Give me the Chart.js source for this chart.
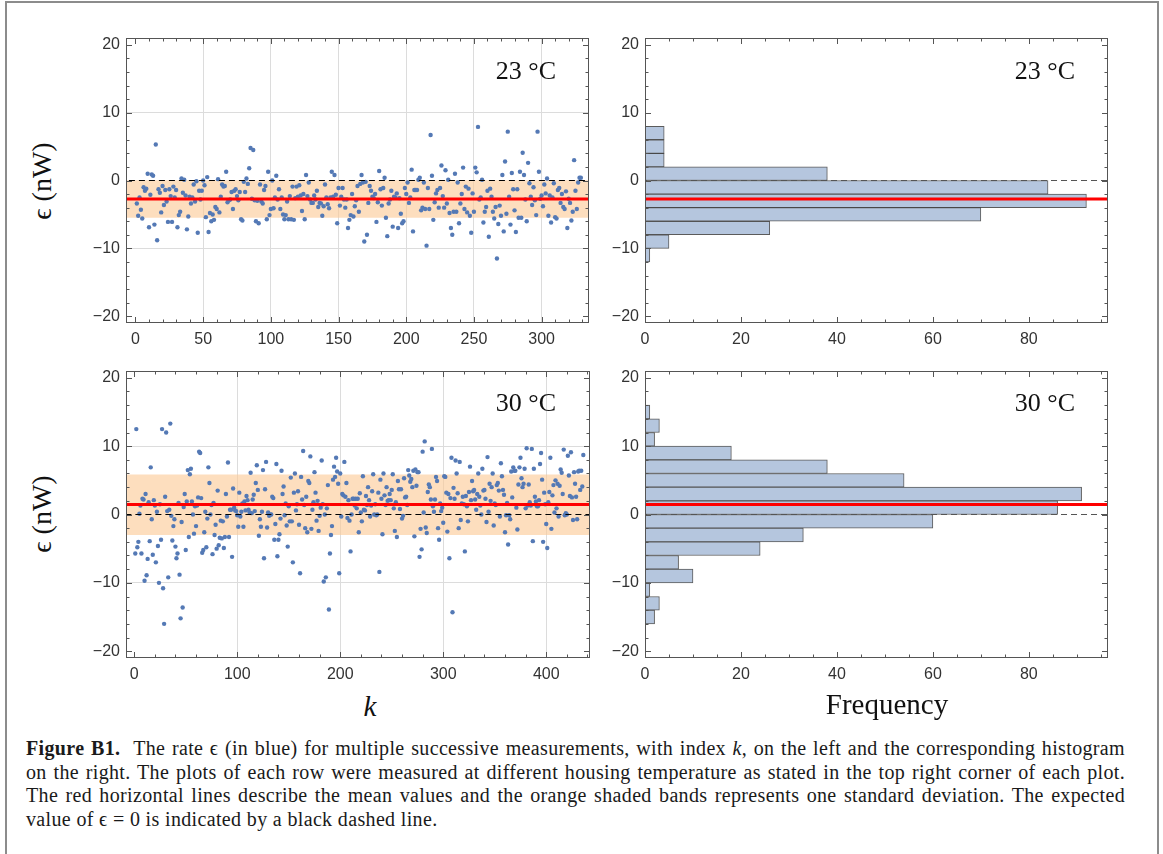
<!DOCTYPE html>
<html>
<head>
<meta charset="utf-8">
<title>Figure B1</title>
<script src="https://cdn.jsdelivr.net/npm/chart.js@4.4.1/dist/chart.umd.min.js"></script>
<style>
    html, body { margin: 0; padding: 0; background: #fff; }
    #page { position: relative; width: 1163px; height: 854px; overflow: hidden; }
    #box { position: absolute; left: 5px; top: 1px; width: 1150px; height: 900px; border: 2px solid #8c8c8c; }
    canvas { position: absolute; }
    .lbl { position: absolute; font-family: 'Liberation Serif', 'DejaVu Serif', serif; color: #111; white-space: nowrap; }
    .temp { font-size: 26px; transform: translate(-100%, -50%); }
    .ylab { font-size: 28px; transform: translate(-50%, -50%) rotate(-90deg); }
    .xlab { font-size: 29px; transform: translate(-50%, -50%); }
    #caption { position: absolute; left: 26px; top: 737px; width: 1099px; font-family: 'Liberation Serif', serif; font-size: 20px; letter-spacing: 0.35px; line-height: 23.5px; color: #1a1a1a; }
    #caption span { display: block; white-space: nowrap; text-align: justify; text-align-last: justify; }
    #caption span.last { text-align-last: left; }
</style>
</head>
<body>
<div id="page">
    <div id="box"></div>

    <canvas id="rate23"></canvas>
    <canvas id="hist23"></canvas>
    <canvas id="rate30"></canvas>
    <canvas id="hist30"></canvas>

    <div class="lbl temp" style="left:556px; top:71px;">23 °C</div>
    <div class="lbl temp" style="left:1075px; top:71px;">23 °C</div>
    <div class="lbl temp" style="left:556px; top:403px;">30 °C</div>
    <div class="lbl temp" style="left:1075px; top:403px;">30 °C</div>

    <div class="lbl ylab" style="left:42px; top:181px;">ϵ (nW)</div>
    <div class="lbl ylab" style="left:42px; top:514px;">ϵ (nW)</div>
    <div class="lbl xlab" style="left:370px; top:706px; font-style:italic;">k</div>
    <div class="lbl xlab" style="left:887px; top:704px;">Frequency</div>

    <div id="caption">
        <span><b>Figure B1.</b>&nbsp; The rate ϵ (in blue) for multiple successive measurements, with index <i>k</i>, on the left and the corresponding histogram</span>
        <span>on the right. The plots of each row were measured at different housing temperature as stated in the top right corner of each plot.</span>
        <span>The red horizontal lines describe the mean values and the orange shaded bands represents one standard deviation. The expected</span>
        <span class="last">value of ϵ = 0 is indicated by a black dashed line.</span>
    </div>
</div>

<script>
const rate23 = [
    -3.4, -5.2, -2.5, -4.3, -5.6, -1.0, -1.5, -1.2, 1.0, -6.9,
    -2.1, 0.9, 0.7, -6.5, 5.3, -8.8, -1.3, -1.8, -4.7, -0.8,
    -3.6, -1.4, -3.1, -6.1, -1.3, -2.3, -6.1, -0.9, -2.5, -1.4,
    -6.9, -5.1, -4.6, 0.3, -1.8, 0.1, -2.2, -7.2, -5.3, -2.4,
    -3.4, -2.5, -0.6, -3.1, -0.1, -7.7, -1.5, -2.8, -1.5, 0.0,
    -0.7, -5.4, 0.5, -7.6, -4.8, -6.0, -5.0, -5.8, -3.9, -4.2,
    0.2, -4.7, -2.4, -0.6, -0.9, -0.8, 1.3, -3.2, -2.9, -2.8,
    -1.7, -4.2, -1.5, -1.3, -2.3, -2.9, -1.7, -5.7, -5.9, -0.2,
    -1.7, 0.3, -0.5, 1.8, 4.8, -2.7, 4.5, -2.9, -6.0, -3.0,
    -6.3, -0.6, -3.1, -3.4, -1.4, -0.8, -5.7, 1.3, -5.1, -4.2,
    0.0, -4.1, -2.5, 0.7, -2.8,
    -1.3, -4.2, -2.5, -5.0, -5.7, -5.1, -3.1, -5.7, -2.3, -5.7,
    -0.9, -5.8, -2.6, -0.9, -2.4, -0.7, -2.2, -4.5, -2.0, -5.7,
    0.8, -2.3, -0.3, -2.8, -3.3, -3.3, -2.2, -2.8, -1.5, -3.9,
    -3.3, -3.4, -5.2, -3.8, -0.6, -2.5, -3.5, -4.1, -2.5, 1.3,
    -2.4, 0.8, -2.1, -6.3, -1.1, -3.7, -2.4, -1.1, -2.8, -4.0,
    -2.8, -7.0, -5.8, -5.1, -2.0, -5.3, -3.8, -2.9, -0.8, -4.6,
    -0.5, 0.8, -0.3, -9.0, -0.2, -8.0, -3.3, -0.8, -1.5, -2.4,
    -2.6, -2.0, -6.1, -3.2, 1.4, -1.3, -3.7, -1.1, 0.4, -5.5,
    -8.2, -3.4, -2.8, -1.5, -6.8, -2.4, -2.5, -1.9, -7.0, -2.6,
    -4.9, -6.3, -6.0, -1.1, -2.0, -0.3, -3.3, -2.5, 1.6, -7.5,
    -1.4, -1.4, -1.4, 0.1, 0.4, -4.4, -4.0, -0.3, -4.2, -9.6,
    -1.1, -4.2, 6.7, 0.7,
    -5.8, -3.2, -1.9, -1.4, -4.0, -1.1, 2.2, -2.3, -4.0, 1.5,
    -3.4, 0.1, -4.8, -7.0, -8.0, -4.6, 1.0, -4.6, -0.3, -6.3,
    -3.4, -2.0, 1.9, -4.2, -0.9, -4.7, -1.2, -5.2, -7.7, -1.9,
    -4.6, 1.9, 1.2, 7.9, -2.8, -2.5, 0.1, -6.2, -4.6, -3.9,
    -1.5, -8.3, -1.2, -2.4, -4.6, -5.6, -3.9, -11.5, -6.4, -3.7, -5.2,
    0.8, -7.5, 2.8, -4.9, 7.2, -2.4, -6.5, 1.1, -1.3, -4.4,
    -7.6, -1.3, -5.5, 1.3, -5.5, 4.1, 0.8, -2.8, -6.0, 2.6,
    -0.4, -2.4, -3.6, -1.0, -2.9, -5.1, 7.2, 1.3, -2.7, -2.2,
    -3.8, -0.6, -1.9, 0.3, -5.2, -2.2, -6.2, -2.5, -0.4, -5.4,
    -5.6, -1.4, -1.1, -3.3, -2.0, -3.9, -4.2, -1.6, -7.0, -2.7,
    -3.3, -5.9, -4.6, 3.0, -1.5, -4.2, -0.3, 0.4, 0.4
];

// Rate epsilon (nW) per measurement index k, 30 °C
const rate30 = [
    -5.7, 12.5, -4.8, -4.0, 0.1, 1.3, -5.7, 2.3, 2.2, -9.7,
    3.0, -8.9, -6.5, 1.8, -3.9, 6.9, -0.7, -5.9, 2.1, 1.3,
    -7.0, 0.4, -4.6, -10.0, 1.5, -3.7, 12.5, -10.8, -16.0, 2.6, 12.0,
    0.5, -9.2, 0.7, 13.3, -0.2, -3.8, -1.7, -0.7, -4.7, -6.4,
    -5.7, 1.7, -8.8, -15.2, -1.1, -13.6, 1.1, 3.0, -5.2, 1.9,
    6.5, -3.3, 5.9, 6.7, 1.9, 0.0, -2.8, 1.2, -1.7, 1.3,
    2.5, 9.2, 9.0, 2.4, -5.6, -5.2, -2.6, 0.4, -4.8, -0.6,
    6.9, 4.6, 0.0, 1.4, -5.8, 1.7, -3.0, -1.5, -5.0, 3.5,
    -4.5, -3.4, -0.9, -3.5, -1.0, -4.9, -3.3, 3.0, -0.3, 7.6,
    -3.3, 0.7, 0.7, -6.2, 3.8, 1.0, 0.6, 0.5, -0.1, -1.8,
    3.2, -0.3, 0.4, 1.6, -1.8, 1.9, 0.6, 2.7, 2.1,
    0.7, 0.3, 6.1, 0.2, 2.2, 2.9, 0.5, 4.6, 7.2, 3.6,
    -3.1, -0.7, -1.8, 0.4, 6.5, -6.4, 3.7, 7.7, -1.9, 0.3,
    -0.2, 0.0, 0.0, 2.6, 2.4, -3.7, -1.4, 7.4, -6.1, -3.7,
    -2.9, -0.6, 6.4, 3.0, 4.1, -0.1, 1.6, -1.6, -4.7, 1.2,
    -1.0, 5.4, -1.0, -7.0, 3.2, 6.0, 0.6, 1.5, 3.4, -1.5,
    -8.6, 5.5, 2.2, 9.3, 1.4, -2.0, 2.6, -2.6, 4.9, 4.6,
    8.5, -2.1, 0.7, 1.8, 6.2, 3.2, -0.9, 2.0, -2.4, -0.2,
    1.0, 7.9, 1.5, -9.8, 0.0, -9.2, 0.9, 4.3, -13.9, -5.7,
    -3.0, -1.7, 5.1, 7.0, 5.5, 8.3, 6.3, 4.5, -8.6, 6.0,
    -0.3, 3.0, 2.8, 7.7, 2.6, 4.6, -0.5, 2.1, -0.9, -5.4,
    0.0, 2.3, 2.3, 1.3, 2.3, 0.9, 2.3, -2.6, 3.1, 0.3,
    -1.0, 5.6, 0.7,
    0.6, 2.7, 1.4, 4.0, 2.1, -0.3, 1.3, 3.4, 5.9, 0.0,
    1.5, -0.1, 0.0, 3.2, -8.4, 5.1, 2.3, -2.9, 6.0, 2.8,
    1.4, 4.0, 2.0, 2.1, 3.0, 2.1, 3.6, 5.9, 0.9, -2.4,
    1.8, -3.3, 4.9, 3.7, 0.8, 3.7, -0.6, -0.2, 5.3, 2.5,
    2.6, 1.4, 6.5, 5.7, 4.8, 5.2, 4.0, 6.4, -3.2, 6.6,
    4.2, 6.2, 6.2, -6.2, -2.1, -5.1, 9.2, 0.3, 10.7, -1.9,
    -2.7, 3.3, 4.4, 4.0, 2.2, 9.6, 1.2, 0.4, 2.2, 5.5,
    4.9, -2.0, -3.7, 1.6, 0.5, 1.0, -1.2, 5.6, 5.5, 3.2,
    -2.5, 3.0, -6.4, 2.4, 8.3, -14.3, 3.9, 2.3, 7.9, 6.0,
    3.1, -2.0, 7.7, -0.8, 1.6, 2.6, 1.5, -5.4, 2.7, 1.2,
    -1.0, 3.3, 7.0, 2.1, 4.9, 3.4, 3.6, 2.2, 0.7, 3.0,
    6.0, 2.6, 1.3,
    0.0, 6.7, 3.5, 3.6, 2.3, -1.1, 8.4, 0.4, 4.5, 2.0,
    4.0, 6.0, -1.6, 1.6, 1.4, 4.3, 4.6, 3.5, -0.3, 7.5,
    5.6, 3.6, 2.9, -2.6, -0.1, 1.7, -4.4, -0.1, -0.7, 6.3,
    2.5, 6.9, 6.4, 6.4, 1.0, -2.2, 4.4, 6.9, 8.3, 5.3,
    4.0, 4.5, 6.7, 0.9, 9.7, 1.3, 4.4, 1.8, 1.3, 9.6,
    -3.9, 6.7, 2.6, 1.9, 1.2, 1.2, 2.1, 7.4, 9.0, 5.1,
    -4.0, 3.2, 1.5, -1.4, -4.9, 1.8, 3.3, 8.3, -2.1, 2.8,
    4.3, 0.3, 5.0, 0.9, 4.5, -0.3, 4.2, 6.6, 6.1, 3.0,
    9.5, -0.1, 0.2, 0.0, 8.6, 5.7, 2.7, 9.1, 2.5, -0.8,
    6.2, 4.5, 2.6, -0.7, 6.3, 6.4, 3.6, 6.4, 4.1, 8.7
];

// Mean value and one-standard-deviation band
const mean23 = -2.72;
const band23 = [-5.5, 0.05];
const mean30 = 1.45;
const band30 = [-3.0, 5.85];

// Histograms: bin centres (nW, 2 nW wide) and counts
const bins23 = [7, 5, 3, 1, -1, -3, -5, -7, -9, -11];
const counts23 = [4, 4, 4, 38, 84, 92, 70, 26, 5, 1];
const bins30 = [15, 13, 11, 9, 7, 5, 3, 1, -1, -3, -5, -7, -9, -11, -13, -15];
const counts30 = [1, 3, 2, 18, 38, 54, 91, 86, 60, 33, 24, 7, 10, 1, 3, 2];

// Axis ranges and tick labels
const kRange23 = [-7, 335];
const kRange30 = [-8, 442.5];
const epsRange = [-21, 21];
const freqRange = [0, 96.5];

const kTicks23 = [0, 50, 100, 150, 200, 250, 300];
const kMinor23 = [10, 20, 30, 40, 60, 70, 80, 90, 110, 120, 130, 140, 160, 170, 180, 190,
                  210, 220, 230, 240, 260, 270, 280, 290, 310, 320, 330];
const kTicks30 = [0, 100, 200, 300, 400];
const kMinor30 = [20, 40, 60, 80, 120, 140, 160, 180, 220, 240, 260, 280, 320, 340, 360, 380, 420, 440];
const epsTicks = [-20, -10, 0, 10, 20];
const epsMinor = [-18, -16, -14, -12, -8, -6, -4, -2, 2, 4, 6, 8, 12, 14, 16, 18];
const freqTicks = [0, 20, 40, 60, 80];
const freqMinor = [5, 10, 15, 25, 30, 35, 45, 50, 55, 65, 70, 75, 85, 90, 95];

// Layout of the four plot frames on the page
const AXIS_W = 60;
const AXIS_H = 30;
const PAD_T = 20;
const PAD_R = 20;
const frames = {
    rate23: { l: 126, t: 38, r: 589, b: 323 },
    hist23: { l: 645, t: 38, r: 1108, b: 323 },
    rate30: { l: 126, t: 371, r: 590, b: 658 },
    hist30: { l: 645, t: 371, r: 1108, b: 658 }
};

const POINT_COLOR = '#5479b5';
const BAND_COLOR = 'rgba(252, 202, 150, 0.62)';
const BAR_COLOR = '#b5c6de';

Chart.defaults.animation = false;
Chart.defaults.font.family = "'Liberation Sans', Arial, sans-serif";
Chart.defaults.font.size = 16;
Chart.defaults.color = '#333';

// Frame with inward ticks on all four sides (Mathematica style)
const frameTicks = {
    id: 'frameTicks',
    afterDraw(chart, args, opts) {
        const { ctx, chartArea: area, scales } = chart;
        ctx.save();
        ctx.strokeStyle = '#555';
        ctx.lineWidth = 1;
        ctx.beginPath();
        const mark = (axis, values, len) => {
            values.forEach(v => {
                if (axis === 'x') {
                    const px = Math.round(scales.x.getPixelForValue(v)) + 0.5;
                    ctx.moveTo(px, area.bottom);
                    ctx.lineTo(px, area.bottom - len);
                    ctx.moveTo(px, area.top);
                    ctx.lineTo(px, area.top + len);
                } else {
                    const py = Math.round(scales.y.getPixelForValue(v)) + 0.5;
                    ctx.moveTo(area.left, py);
                    ctx.lineTo(area.left + len, py);
                    ctx.moveTo(area.right, py);
                    ctx.lineTo(area.right - len, py);
                }
            });
        };
        mark('x', opts.xMajor, 6);
        mark('x', opts.xMinor, 3.5);
        mark('y', opts.yMajor, 6);
        mark('y', opts.yMinor, 3.5);
        ctx.stroke();
        ctx.strokeRect(area.left + 0.5, area.top + 0.5, area.width - 1, area.height - 1);
        ctx.restore();
    }
};

function fmt(v) {
    return v < 0 ? '\u2212' + Math.abs(v) : String(v);
}

// Size and place a canvas so that its chart area lands on the frame
function placeCanvas(id) {
    const f = frames[id];
    const c = document.getElementById(id);
    const w = f.r - f.l + AXIS_W + PAD_R;
    const h = f.b - f.t + PAD_T + AXIS_H;
    c.width = w;
    c.height = h;
    c.style.left = (f.l - AXIS_W) + 'px';
    c.style.top = (f.t - PAD_T) + 'px';
    c.style.width = w + 'px';
    c.style.height = h + 'px';
    return c.getContext('2d');
}

function makeAxis(range, major, gridValues, isX) {
    return {
        type: 'linear',
        min: range[0],
        max: range[1],
        offset: false,
        afterBuildTicks: s => { s.ticks = major.map(v => ({ value: v })); },
        afterFit: s => { if (isX) s.height = AXIS_H; else s.width = AXIS_W; },
        ticks: { padding: isX ? 7 : 6, color: '#333', autoSkip: false, maxRotation: 0, callback: fmt },
        grid: gridValues ? {
            display: true,
            offset: false,
            drawTicks: false,
            lineWidth: 1,
            color: c => (c.tick && gridValues.includes(c.tick.value)) ? '#dcdcdc' : 'rgba(0,0,0,0)'
        } : { display: false, offset: false, drawTicks: false },
        border: { display: false }
    };
}

function commonOptions() {
    return {
        responsive: false,
        maintainAspectRatio: false,
        layout: { padding: { top: PAD_T, right: PAD_R, left: 0, bottom: 0 } },
        plugins: { legend: { display: false }, tooltip: { enabled: false } }
    };
}

// Scatter of rate vs k with mean line, sd band and zero line
function createRateChart(id, values, mean, band, kRange, kTicks, kMinor, kGrid) {
    const ctx = placeCanvas(id);
    const span = v => [{ x: kRange[0] - 20, y: v }, { x: kRange[1] + 20, y: v }];
    const points = values.map((v, i) => ({ x: i + 1, y: v }));

    const options = commonOptions();
    options.scales = {
        x: makeAxis(kRange, kTicks, kGrid, true),
        y: makeAxis(epsRange, epsTicks, [-10, 10], false)
    };
    options.plugins.frameTicks = { xMajor: kTicks, xMinor: kMinor, yMajor: epsTicks, yMinor: epsMinor };

    new Chart(ctx, {
        type: 'scatter',
        data: {
            datasets: [
                { type: 'line', data: span(0), borderColor: '#000', borderWidth: 1.2, borderDash: [6, 4], pointRadius: 0, order: 0 },
                { type: 'line', data: span(mean), borderColor: '#ff0000', borderWidth: 3, pointRadius: 0, order: 1 },
                { type: 'scatter', data: points, backgroundColor: POINT_COLOR, borderWidth: 0, pointRadius: 2.2, order: 2 },
                { type: 'line', data: span(band[1]), borderColor: 'rgba(0,0,0,0)', borderWidth: 0, pointRadius: 0,
                  fill: '+1', backgroundColor: BAND_COLOR, order: 3 },
                { type: 'line', data: span(band[0]), borderColor: 'rgba(0,0,0,0)', borderWidth: 0, pointRadius: 0,
                  fill: false, order: 4 }
            ]
        },
        options: options,
        plugins: [frameTicks]
    });
}

// Horizontal histogram with mean line and zero line
function createHistChart(id, bins, counts, mean) {
    const ctx = placeCanvas(id);
    const span = v => [{ x: -5, y: v }, { x: 110, y: v }];

    const options = commonOptions();
    options.indexAxis = 'y';
    options.scales = {
        x: makeAxis(freqRange, freqTicks, null, true),
        y: makeAxis(epsRange, epsTicks, null, false)
    };
    options.plugins.frameTicks = { xMajor: freqTicks, xMinor: freqMinor, yMajor: epsTicks, yMinor: epsMinor };

    new Chart(ctx, {
        type: 'bar',
        data: {
            datasets: [
                { type: 'line', data: span(mean), borderColor: '#ff0000', borderWidth: 3, pointRadius: 0, order: 0 },
                { type: 'line', data: span(0), borderColor: '#555', borderWidth: 1.2, borderDash: [6, 4], pointRadius: 0, order: 1 },
                {
                    type: 'bar',
                    data: bins.map((b, i) => ({ x: counts[i], y: b })),
                    backgroundColor: BAR_COLOR,
                    borderColor: 'rgba(50, 50, 50, 0.8)',
                    borderWidth: 1,
                    borderSkipped: false,
                    barPercentage: 1,
                    categoryPercentage: 1,
                    order: 2
                }
            ]
        },
        options: options,
        plugins: [frameTicks]
    });
}

document.addEventListener('DOMContentLoaded', function() {
    createRateChart('rate23', rate23, mean23, band23, kRange23, kTicks23, kMinor23, [50, 100, 150, 200, 250, 300]);
    createHistChart('hist23', bins23, counts23, mean23);
    createRateChart('rate30', rate30, mean30, band30, kRange30, kTicks30, kMinor30, [100, 200, 300, 400]);
    createHistChart('hist30', bins30, counts30, mean30);
});
</script>
</body>
</html>
